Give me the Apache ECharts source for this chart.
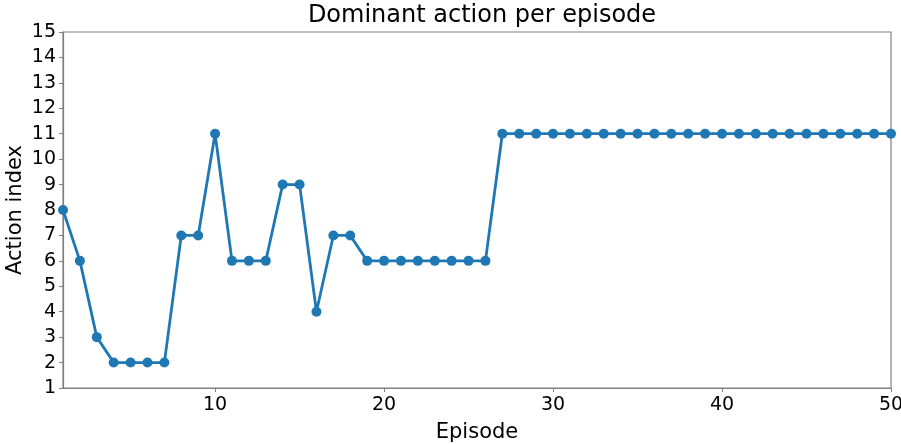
<!DOCTYPE html>
<html><head><meta charset="utf-8">
<script src="https://cdn.jsdelivr.net/npm/echarts@6/dist/echarts.min.js"></script>
<style>html,body{margin:0;padding:0;background:#fff}#c{width:901px;height:444px}</style>
</head><body><div id="c"></div>
<script>
const episodes = [];
for (let i = 1; i <= 50; i++) episodes.push(i);
const actions = [8,6,3,2,2,2,2,7,7,11,6,6,6,9,9,4,7,7,6,6,6,6,6,6,6,6,
  11,11,11,11,11,11,11,11,11,11,11,11,11,11,11,11,11,11,11,11,11,11,11,11];
const xTicks = [10,20,30,40,50];
const yTicks = [1,2,3,4,5,6,7,8,9,10,11,12,13,14,15];
const font = 'DejaVu Sans';
const axisCol = '#808080';
const chart = echarts.init(document.getElementById('c'));
chart.setOption({
  animation: false,
  title: {text: 'Dominant action per episode', left: 477, top: -1, textAlign: 'center',
    textStyle: {fontFamily: font, fontSize: 24, fontWeight: 'normal', color: '#000'}},
  grid: {left: 63, top: 32, width: 828, height: 356, show: true, borderColor: axisCol, borderWidth: 1.2,
    containLabel: false, outerBoundsMode: 'none'},
  xAxis: {type: 'value', min: 1, max: 50, name: 'Episode', nameLocation: 'middle', nameGap: 34,
    nameMoveOverlap: false,
    nameTextStyle: {fontFamily: font, fontSize: 21, color: '#000'},
    axisLine: {lineStyle: {color: axisCol, width: 1.2}},
    axisTick: {show: true, length: 4, customValues: xTicks, lineStyle: {color: axisCol}},
    axisLabel: {customValues: xTicks, fontFamily: font, fontSize: 19, color: '#000', margin: 8},
    splitLine: {show: false}},
  yAxis: {type: 'value', min: 1, max: 15, interval: 1, name: 'Action index', nameLocation: 'middle', nameGap: 37,
    nameMoveOverlap: false,
    nameTextStyle: {fontFamily: font, fontSize: 21, color: '#000'},
    axisLine: {show: true, lineStyle: {color: axisCol, width: 1.2}},
    axisTick: {show: true, length: 4, lineStyle: {color: axisCol}},
    axisLabel: {fontFamily: font, fontSize: 19, color: '#000', margin: 7},
    splitLine: {show: false}},
  series: [{type: 'line', data: episodes.map((e, i) => [e, actions[i]]),
    symbol: 'circle', symbolSize: 10, clip: false,
    lineStyle: {color: '#1f77b4', width: 2.8},
    itemStyle: {color: '#1f77b4'}}]
});
</script></body></html>
